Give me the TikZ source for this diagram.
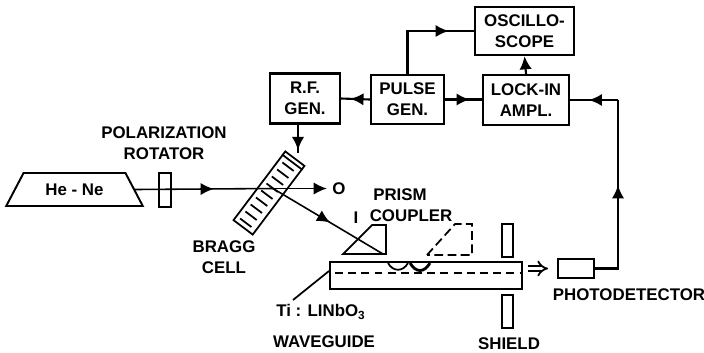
\documentclass[tikz,border=0pt]{standalone}
\usepackage{fontspec}
\setmainfont{Liberation Sans}
\usetikzlibrary{arrows.meta,calc,decorations.markings,shapes.geometric}
\tikzset{
    lbl/.style={font=\bfseries\fontsize{9.6}{12}\selectfont, align=center, inner sep=0pt},
    blockbox/.style={draw, line width=1.3pt, lbl},
    wire/.style={line width=1.2pt},
    ray/.style={line width=0.9pt},
    midtip/.style={postaction={decorate}, decoration={markings, mark=at position #1 with {\arrow{Latex[length=7.5pt,width=7pt]}}}},
    endtip/.style={-{Latex[length=7.5pt,width=7pt]}},
}
\begin{document}
\begin{tikzpicture}[x=0.2mm, y=-0.2mm]
    \useasboundingbox (0,0) rectangle (704,352);
    % instruments
    \node[blockbox, minimum width=19.8mm, minimum height=9.6mm] (scope) at (524.5,31) {OSCILLO-\\SCOPE};
    \node[blockbox, minimum width=14mm, minimum height=10mm] (rfgen) at (305,98.5) {R.F.\\GEN.};
    \node[blockbox, minimum width=14.6mm, minimum height=9.8mm] (pulse) at (407.5,99.5) {PULSE\\GEN.};
    \node[blockbox, minimum width=17.2mm, minimum height=10mm] (lockin) at (526,100) {LOCK-IN\\AMPL.};
    \node[blockbox, minimum width=7.2mm, minimum height=3.8mm] (detector) at (576,268.5) {};
    % optics
    \node[draw, line width=1.1pt, trapezium, trapezium stretches=true, trapezium left angle=50, trapezium right angle=50, minimum width=27.4mm, minimum height=6.6mm, lbl] (laser) at (74.5,189.5) {He - Ne};
    \node[draw, line width=0.9pt, minimum width=2.4mm, minimum height=6.8mm, inner sep=0pt] (rotator) at (165,190) {};
    \node[draw, line width=1pt, rotate=53, minimum width=17.2mm, minimum height=4.8mm, inner sep=0pt] (cell) at (269,193) {};
    \coordinate (hit) at (273,188.5);
    \node[lbl] (zero) at (339,188.5) {O};
    \coordinate (prismhit) at (383,254);
    % bragg cell gratings
    \coordinate (ga) at ($(cell.north west)!.2!(cell.south west)$);
    \coordinate (gb) at ($(cell.north east)!.2!(cell.south east)$);
    \coordinate (gc) at ($(cell.north west)!.75!(cell.south west)$);
    \coordinate (gd) at ($(cell.north east)!.75!(cell.south east)$);
    \foreach \t in {.07,.17,.27,.37,.47,.57,.67,.77,.87}
        \draw[line width=1pt] ($(ga)!\t!(gb)$)--($(gc)!\t!(gd)$);
    \draw[line width=1pt] ($(cell.north west)!.94!(cell.north east)$)--($(cell.south west)!.94!(cell.south east)$);
    % beams
    \draw[ray, midtip=.57] (laser.east)--(hit);
    \draw[ray, endtip, shorten >=3pt] (hit)--(zero.west);
    \draw[ray, midtip=.52] (hit)--(prismhit);
    % prisms and waveguide
    \draw[line width=1pt] (343,254)--(372,225)--(386,225)--(386,254)--cycle;
    \draw[line width=1pt, dash pattern=on 5pt off 2.5pt] (427,255)--(455,224)--(472,224)--(472,255)--cycle;
    \node[draw, line width=1.3pt, minimum width=38.4mm, minimum height=5.4mm] (guide) at (426,275.5) {};
    \coordinate (dashstart) at (335,273);
    \coordinate (dashend) at (522,273);
    \draw[line width=1pt, dash pattern=on 4.5pt off 3pt] (dashstart)--(dashend);
    \draw[line width=1pt] (388,263) .. controls (393,272) and (403,272) .. (408,263);
    \draw[line width=1.6pt] (410,263) .. controls (416,273) and (424,273) .. (430,263);
    \node[draw, line width=1pt, minimum width=2.2mm, minimum height=6.6mm] (shieldtop) at (507.5,240.5) {};
    \node[draw, line width=1pt, minimum width=2.2mm, minimum height=6.6mm] (shieldlow) at (507.5,311.5) {};
    \coordinate (leaderfoot) at (293,300);
    \coordinate (leaderhead) at (329,271);
    \draw[line width=1pt] (leaderfoot)--(leaderhead);
    \coordinate (outstart) at (528,268.5);
    \draw[line width=1pt, double distance=2pt, -{Implies}, shorten >=5pt] (outstart)--(detector.west);
    % signal lines
    \coordinate (rfdrive) at (298,153);
    \draw[wire, midtip=.9] (rfgen.south -| rfdrive)--(rfdrive);
    \draw[wire, midtip=.68] (pulse.west)--(rfgen.east);
    \draw[wire, midtip=.67] (pulse.east)--(pulse.east -| lockin.west);
    \draw[wire, midtip=.77] (pulse.north) |- (scope.west);
    \draw[wire, endtip] (lockin.north)--(scope.south);
    \coordinate (corner) at (618,268.5);
    \coordinate (bend) at (618,100);
    \draw[wire, midtip=.555] (detector.east)--(corner)--(bend);
    \draw[wire, midtip=.61] (bend)--(lockin.east);
    % labels
    \node[lbl] (rotlabel) at (164,143) {POLARIZATION\\ROTATOR};
    \node[lbl] (celllabel) at (224,257) {BRAGG\\CELL};
    \node[lbl, align=left] (prismlabel) at (411,205) {\hspace{2pt}PRISM\\COUPLER};
    \node[lbl] (order) at (356,218) {I};
    \node[lbl] (tilabel) at (321,312) {Ti : LINbO\textsubscript{3}};
    \node[lbl] (guidelabel) at (324,342) {WAVEGUIDE};
    \node[lbl] (shieldlabel) at (509,344) {SHIELD};
    \node[lbl] (detlabel) at (629,295) {PHOTODETECTOR};
\end{tikzpicture}
\end{document}
